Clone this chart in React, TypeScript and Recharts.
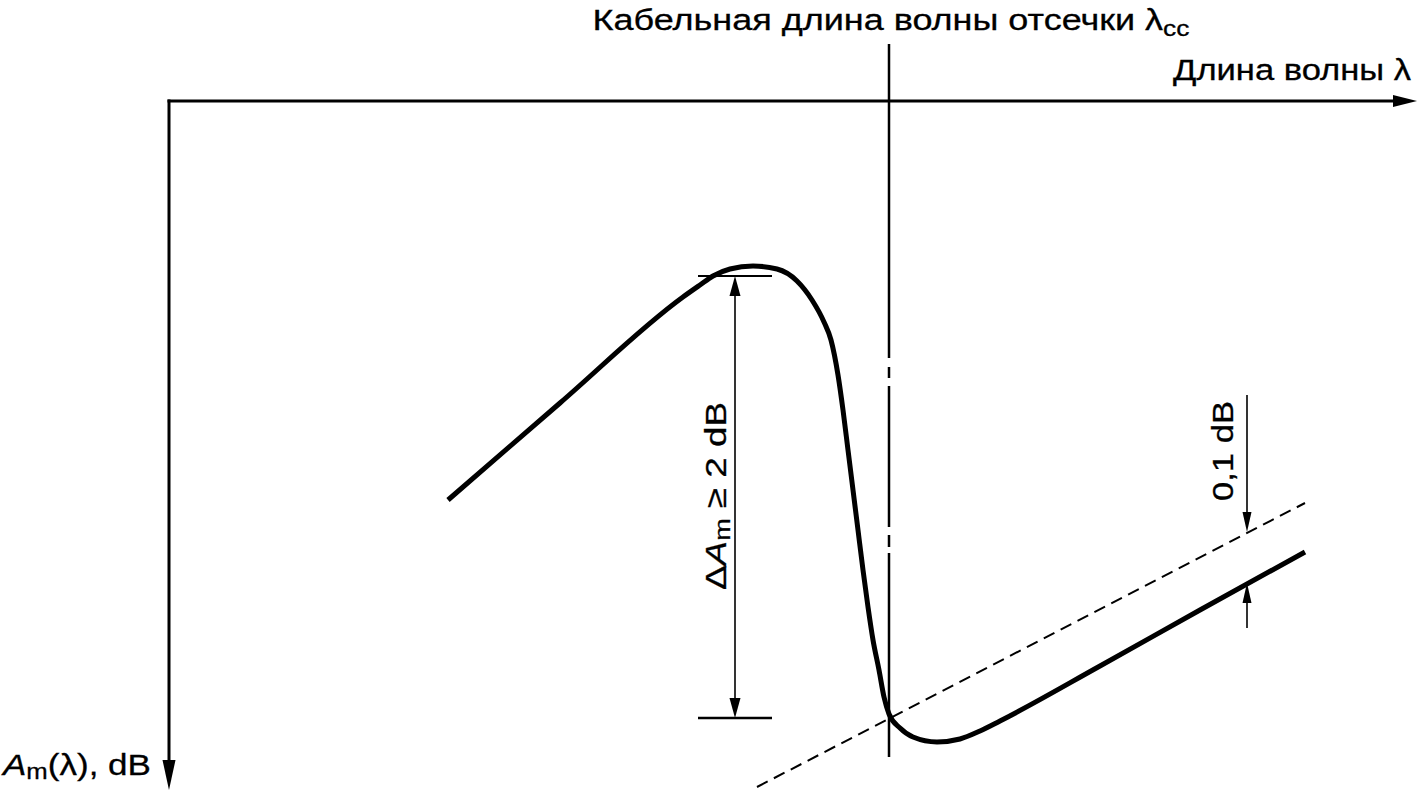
import React from 'react';
import { LineChart, Line, XAxis, YAxis, ReferenceLine } from 'recharts';

// schematic units, origin at the corner of the axes (λ to the right, A_m downwards)
const curveLambda = [279, 391, 514, 531, 544, 561, 584, 608, 628, 643, 655, 662, 669, 674, 679, 684, 689, 694, 699, 704, 710, 715, 720, 731, 744, 768, 791, 811, 831, 931, 1031, 1136];
const curveAm = [399, 302, 196, 184, 175, 168, 165, 168, 180, 199, 221, 239, 274, 309, 349, 389, 429, 469, 506, 539, 569, 596, 613, 627, 636, 641, 638, 630, 620, 565, 509, 451];

const tangentLambda = [588, 1136];
const tangentAm = [686, 402];

const axisEnd = { lambda: 1248, am: 689 };
const cutoffLambda = 720;
const cutoffSpan = [-57, 656];

const deltaLambda = 566;
const deltaLevels = [175, 617];
const deltaTick = [529, 603];

const offsetLambda = 1078;
const offsetSpan = [294, 527];
const offsetLevels = [431, 482];

const curveData = curveLambda.map((lambda, i) => ({ lambda, am: curveAm[i] }));
const tangentData = tangentLambda.map((lambda, i) => ({ lambda, am: tangentAm[i] }));

const FONT = '"Liberation Sans", Arial, sans-serif';
const FS = 30;
const textStyle = { fontFamily: FONT, fontSize: FS, fill: '#000', stroke: '#000', strokeWidth: 0.3 };

const head = (tx: number, ty: number, fx: number, fy: number, len: number, half: number) => {
  const d = Math.hypot(tx - fx, ty - fy);
  const ux = (tx - fx) / d;
  const uy = (ty - fy) / d;
  const bx = tx - ux * len;
  const by = ty - uy * len;
  return {
    bx,
    by,
    points: `${tx},${ty} ${bx - uy * half},${by + ux * half} ${bx + uy * half},${by - ux * half}`,
  };
};

const XAxisShape = (p: any) => {
  const h = head(p.x2, p.y2, p.x1, p.y1, 24, 6);
  return (
    <g>
      <line x1={p.x1 - 1.5} y1={p.y1} x2={h.bx} y2={h.by} stroke="#000" strokeWidth={3} />
      <polygon points={h.points} fill="#000" />
      <text x={p.x2 - 6} y={p.y2 - 21} textAnchor="end" {...textStyle} textLength={238} lengthAdjust="spacingAndGlyphs">
        Длина волны λ
      </text>
    </g>
  );
};

const YAxisShape = (p: any) => {
  const h = head(p.x2, p.y2, p.x1, p.y1, 30, 6.5);
  return (
    <g>
      <line x1={p.x1} y1={p.y1 - 1.5} x2={h.bx} y2={h.by} stroke="#000" strokeWidth={3} />
      <polygon points={h.points} fill="#000" />
      <text x={p.x2 - 18} y={p.y2 - 15} textAnchor="end" {...textStyle} textLength={148} lengthAdjust="spacingAndGlyphs">
        <tspan fontStyle="italic">A</tspan>
        <tspan fontSize={22} dy={4}>m</tspan>
        <tspan dy={-4}>(λ), dB</tspan>
      </text>
    </g>
  );
};

const CutoffShape = (p: any) => (
  <g>
    <line x1={p.x1} y1={p.y1} x2={p.x2} y2={p.y2} stroke="#000" strokeWidth={2.5} strokeDasharray="314 9 11 8 141 8 12 6 204" />
    <text x={p.x1 + 2} y={p.y1 - 14} textAnchor="middle" {...textStyle} textLength={597} lengthAdjust="spacingAndGlyphs">
      Кабельная длина волны отсечки λ
      <tspan fontSize={22} dy={6}>cc</tspan>
    </text>
  </g>
);

const DeltaShape = (p: any) => {
  const a = head(p.x1, p.y1, p.x2, p.y2, 20, 5.5);
  const b = head(p.x2, p.y2, p.x1, p.y1, 20, 5.5);
  const cx = p.x1 - 9;
  const cy = (p.y1 + p.y2) / 2 - 1;
  return (
    <g>
      <line x1={a.bx} y1={a.by} x2={b.bx} y2={b.by} stroke="#000" strokeWidth={1.6} />
      <polygon points={a.points} fill="#000" />
      <polygon points={b.points} fill="#000" />
      <text x={cx} y={cy} transform={`rotate(-90 ${cx} ${cy})`} textAnchor="middle" {...textStyle} textLength={188} lengthAdjust="spacingAndGlyphs">
        Δ<tspan fontStyle="italic">A</tspan>
        <tspan fontSize={22} dy={4}>m</tspan>
        <tspan dy={-4}> ≥ 2 dB</tspan>
      </text>
    </g>
  );
};

const OffsetShape = (label: boolean) => (p: any) => {
  const h = head(p.x2, p.y2, p.x1, p.y1, 20, 4.5);
  const cx = p.x1 - 14;
  const cy = p.y1 + 56;
  return (
    <g>
      <line x1={p.x1} y1={p.y1} x2={h.bx} y2={h.by} stroke="#000" strokeWidth={1.6} />
      <polygon points={h.points} fill="#000" />
      {label && (
        <text x={cx} y={cy} transform={`rotate(-90 ${cx} ${cy})`} textAnchor="middle" {...textStyle} textLength={100} lengthAdjust="spacingAndGlyphs">
          0,1 dB
        </text>
      )}
    </g>
  );
};

export default function App() {
  return (
    <div style={{ position: 'absolute', left: 0, top: 0, background: '#fff' }}>
      <LineChart width={1423} height={793} data={curveData} margin={{ top: 0, right: 0, bottom: 0, left: 0 }}>
        <XAxis type="number" dataKey="lambda" domain={[-169, 1254]} allowDataOverflow hide />
        <YAxis type="number" domain={[-101, 692]} allowDataOverflow reversed hide />

        <ReferenceLine segment={[{ x: 0, y: 0 }, { x: axisEnd.lambda, y: 0 }]} shape={XAxisShape} />
        <ReferenceLine segment={[{ x: 0, y: 0 }, { x: 0, y: axisEnd.am }]} shape={YAxisShape} />
        <ReferenceLine segment={[{ x: cutoffLambda, y: cutoffSpan[0] }, { x: cutoffLambda, y: cutoffSpan[1] }]} shape={CutoffShape} />

        <ReferenceLine segment={[{ x: deltaTick[0], y: deltaLevels[0] }, { x: deltaTick[1], y: deltaLevels[0] }]} stroke="#000" strokeWidth={2} />
        <ReferenceLine segment={[{ x: deltaTick[0], y: deltaLevels[1] }, { x: deltaTick[1], y: deltaLevels[1] }]} stroke="#000" strokeWidth={2.5} />
        <ReferenceLine segment={[{ x: deltaLambda, y: deltaLevels[0] }, { x: deltaLambda, y: deltaLevels[1] }]} shape={DeltaShape} />

        <ReferenceLine segment={[{ x: offsetLambda, y: offsetSpan[0] }, { x: offsetLambda, y: offsetLevels[0] }]} shape={OffsetShape(true)} />
        <ReferenceLine segment={[{ x: offsetLambda, y: offsetSpan[1] }, { x: offsetLambda, y: offsetLevels[1] }]} shape={OffsetShape(false)} />

        <Line data={tangentData} dataKey="am" type="linear" stroke="#000" strokeWidth={2} strokeDasharray="12 7" dot={false} activeDot={false} isAnimationActive={false} />
        <Line dataKey="am" type="monotone" stroke="#000" strokeWidth={5} dot={false} activeDot={false} isAnimationActive={false} />
      </LineChart>
    </div>
  );
}
